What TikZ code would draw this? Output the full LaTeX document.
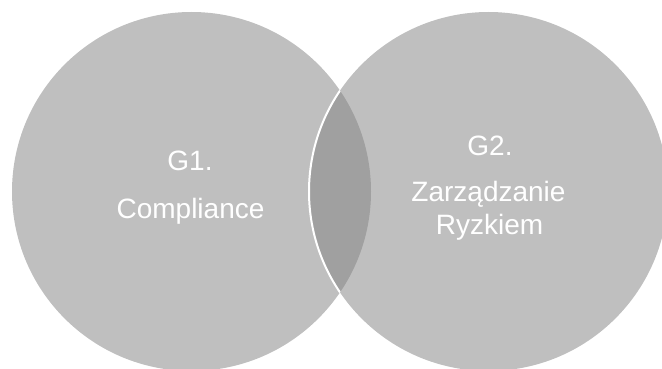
\documentclass[tikz,border=0pt]{standalone}
\usepackage{fontspec}
\setmainfont{Liberation Sans}
\definecolor{discgray}{HTML}{BFBFBF}
\definecolor{lensgray}{HTML}{A0A0A0}
\begin{document}
\begin{tikzpicture}[x=1pt,y=-1pt,
  disc/.style={fill=discgray},
  lens/.style={fill=lensgray},
  rim/.style={draw=white,line width=2pt},
  lbl/.style={text=white,font=\fontsize{28}{32}\selectfont,inner sep=0pt,anchor=base}]
  \useasboundingbox (0,0) rectangle (662,369);
  % two overlapping sets
  \coordinate (cl) at (191.5,191.5);
  \coordinate (cr) at (488.5,191.5);
  \begin{scope}
    \clip (0,0) rectangle (662,369);
    \fill[disc] (cl) circle[radius=179.5pt];
    \fill[disc] (cr) circle[radius=179.5pt];
    % shared part, with the edge of the right set drawn in white
    \begin{scope}
      \clip (cl) circle[radius=179.5pt];
      \fill[lens] (cr) circle[radius=179.5pt];
      \draw[rim] (cr) circle[radius=179.5pt];
    \end{scope}
  \end{scope}
  % labels
  \node[lbl] (g1) at (190,170) {G1.};
  \node[lbl] (g1t) at (190.5,218) {Compliance};
  \node[lbl] (g2) at (490,155) {G2.};
  \node[lbl] (g2a) at (488.5,201.5) {Zarządzanie};
  \node[lbl] (g2b) at (489.5,234) {Ryzkiem};
\end{tikzpicture}
\end{document}
